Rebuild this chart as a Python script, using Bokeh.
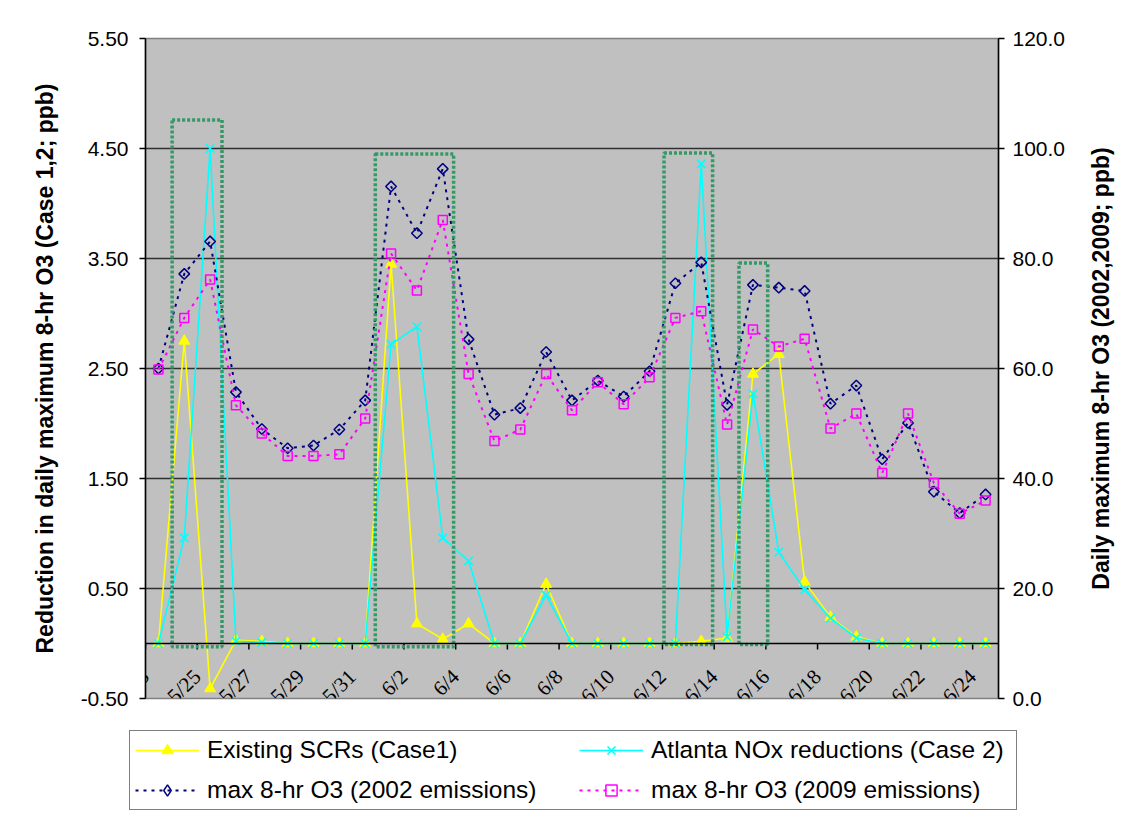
import math
from bokeh.plotting import figure
from bokeh.layouts import column, row
from bokeh.models import (Range1d, LinearAxis, FixedTicker, NumeralTickFormatter,
                          ColumnDataSource, LabelSet, Legend, LegendItem, Span)
from bokeh.core.properties import value
from bokeh.embed import file_html
from bokeh.resources import INLINE

# ---------------- data ----------------
dates = ["5/23", "5/24", "5/25", "5/26", "5/27", "5/28", "5/29", "5/30", "5/31",
         "6/1", "6/2", "6/3", "6/4", "6/5", "6/6", "6/7", "6/8", "6/9", "6/10",
         "6/11", "6/12", "6/13", "6/14", "6/15", "6/16", "6/17", "6/18", "6/19",
         "6/20", "6/21", "6/22", "6/23", "6/24"]

# Reduction in daily max 8-hr O3 (left axis, ppb)
case1_scr = [0.00, 2.75, -0.41, 0.03, 0.02, 0.00, 0.00, 0.00, 0.00,
             3.45, 0.18, 0.04, 0.18, 0.00, 0.00, 0.54, 0.00, 0.00, 0.00,
             0.00, 0.00, 0.02, 0.05, 2.45, 2.63, 0.56, 0.24, 0.06,
             0.00, 0.00, 0.00, 0.00, 0.00]
case2_atl = [0.00, 0.96, 4.50, 0.02, 0.01, 0.00, 0.00, 0.00, 0.00,
             2.72, 2.88, 0.96, 0.75, 0.00, 0.00, 0.44, 0.00, 0.00, 0.00,
             0.00, 0.00, 4.36, 0.06, 2.27, 0.83, 0.49, 0.23, 0.05,
             0.00, 0.00, 0.00, 0.00, 0.00]

# Daily max 8-hr O3 (right axis, ppb)
o3_2002 = [60.0, 77.2, 83.1, 55.7, 49.0, 45.5, 46.0, 48.9, 54.2,
           93.1, 84.6, 96.3, 65.3, 51.6, 52.8, 63.0, 54.2, 57.8, 54.9,
           59.5, 75.5, 79.3, 53.4, 75.2, 74.7, 74.1, 53.6, 56.9,
           43.5, 50.1, 37.6, 33.7, 37.1]
o3_2009 = [59.8, 69.2, 76.2, 53.3, 48.2, 44.1, 44.1, 44.4, 50.9,
           80.9, 74.2, 87.0, 59.0, 46.8, 48.9, 59.0, 52.4, 57.5, 53.5,
           58.4, 69.2, 70.4, 49.8, 67.1, 64.0, 65.4, 49.1, 51.8,
           41.0, 51.8, 39.2, 33.6, 36.0]

left_ticks = [-0.5, 0.5, 1.5, 2.5, 3.5, 4.5, 5.5]
right_ticks = [0, 20, 40, 60, 80, 100, 120]

left_title = "Reduction in daily maximum 8-hr O3 (Case 1,2; ppb)"
right_title = "Daily maximum 8-hr O3 (2002,2009; ppb)"
series_names = ["Existing SCRs (Case1)", "Atlanta NOx reductions (Case 2)",
                "max 8-hr O3 (2002 emissions)", "max 8-hr O3 (2009 emissions)"]

# highlighted episodes (dotted green boxes), category units / left-axis units
box_left = [1.03, 8.89, 20.06, 22.96]
box_right = [2.96, 11.92, 21.94, 24.07]
box_bottom = [-0.03, -0.03, -0.01, -0.01]
box_top = [4.76, 4.45, 4.46, 3.46]

# ---------------- styles ----------------
n = len(dates)
xs = [i + 0.5 for i in range(n)]
FONT = "Liberation Sans"
YEL, CYA, NAV, MAG, GRN = "#FFFF00", "#00FFFF", "#000080", "#FF00FF", "#339966"

src = ColumnDataSource(dict(x=xs, case1=case1_scr, case2=case2_atl,
                            o2002=o3_2002, o2009=o3_2009))

def add_series(fig, rng_right, for_legend=False):
    r = []
    r.append(fig.line("x", "case1", source=src, line_color=YEL, line_width=1.6))
    r.append(fig.scatter("x", "case1", source=src, marker="triangle", size=11,
                         fill_color=YEL, line_color=YEL))
    r.append(fig.line("x", "case2", source=src, line_color=CYA, line_width=1.6))
    r.append(fig.scatter("x", "case2", source=src, marker="x", size=12,
                         line_color=CYA, line_width=1.6))
    r.append(fig.line("x", "o2002", source=src, y_range_name=rng_right, line_color=NAV,
                      line_width=2, line_dash="3 5"))
    if for_legend:
        r.append(fig.scatter("x", "o2002", source=src, y_range_name=rng_right,
                             marker="diamond", size=12, fill_color=None, line_color=NAV,
                             line_width=1.5))
    else:
        r.append(fig.scatter("x", "o2002", source=src, y_range_name=rng_right,
                             marker="square", angle=math.pi / 4, size=7.5, fill_color=None,
                             line_color=NAV, line_width=1.5))
    r.append(fig.line("x", "o2009", source=src, y_range_name=rng_right, line_color=MAG,
                      line_width=2, line_dash="3 5"))
    r.append(fig.scatter("x", "o2009", source=src, y_range_name=rng_right, marker="square",
                         size=9, fill_color=None, line_color=MAG, line_width=1.5))
    return r

# ---------------- main chart ----------------
p = figure(width=1080, height=728, x_range=Range1d(0, n), y_range=Range1d(-0.5, 5.5),
           x_axis_location=None, y_axis_location=None,
           toolbar_location=None, output_backend="svg",
           min_border_left=145, min_border_right=82, min_border_top=38, min_border_bottom=30,
           background_fill_color="#C0C0C0", border_fill_color="white",
           outline_line_color="#808080", outline_line_width=1.5)
p.extra_y_ranges = {"right": Range1d(0, 120)}

p.xgrid.visible = False
p.ygrid.ticker = FixedTicker(ticks=left_ticks[1:-1])
p.ygrid.grid_line_color = "#303030"
p.ygrid.grid_line_width = 1.5

def style_axis(ax):
    ax.major_tick_in = 0
    ax.major_tick_out = 6
    ax.minor_tick_in = 0
    ax.minor_tick_out = 0
    ax.axis_line_color = "black"
    ax.axis_line_width = 1.5
    ax.major_tick_line_color = "black"
    ax.major_tick_line_width = 1.5
    ax.major_label_text_font = FONT
    ax.major_label_text_font_size = "21px"
    ax.major_label_text_color = "black"
    ax.axis_label_text_font = FONT
    ax.axis_label_text_font_size = "23px"
    ax.axis_label_text_font_style = "bold"
    ax.axis_label_text_color = "black"

yl = LinearAxis(ticker=FixedTicker(ticks=left_ticks),
                formatter=NumeralTickFormatter(format="0.00"), axis_label=left_title)
style_axis(yl)
yl.major_label_standoff = 11
yl.axis_label_standoff = 20
p.add_layout(yl, "left")

yr = LinearAxis(y_range_name="right", ticker=FixedTicker(ticks=right_ticks),
                formatter=NumeralTickFormatter(format="0.0"))
style_axis(yr)
yr.major_label_standoff = 8
p.add_layout(yr, "right")

# category axis crossing at zero, with tick marks every second day
p.add_layout(Span(location=0, dimension="width", line_color="black", line_width=1.5))
tick_x = list(range(0, n, 2))
p.segment(x0=tick_x, y0=[0] * len(tick_x), x1=tick_x, y1=[-6 / 110] * len(tick_x),
          line_color="black", line_width=1.5)

main_r = add_series(p, "right")

p.quad(left=box_left, right=box_right, bottom=box_bottom, top=box_top,
       fill_color=None, line_color=GRN, line_width=3.5, line_dash="3 2")

# rotated category labels
label_idx = list(range(0, n, 2))
lab_src = ColumnDataSource(dict(x=[xs[i] for i in label_idx],
                                y=[p.y_range.start + 0.23] * len(label_idx),
                                text=[dates[i] for i in label_idx]))
p.add_layout(LabelSet(x="x", y="y", text="text", source=lab_src, angle=math.pi / 4,
                      text_align="right", text_baseline="middle", x_offset=-13,
                      text_font=FONT, text_font_size="21px", text_color="black"))

# ---------------- right-hand axis title strip ----------------
pt = figure(width=42, height=728, x_range=Range1d(0, 1), y_range=Range1d(0, 1),
            x_axis_location=None, y_axis_location=None, toolbar_location=None,
            output_backend="svg", min_border=0, outline_line_color=None,
            background_fill_color="white", border_fill_color="white")
pt.xgrid.visible = False
pt.ygrid.visible = False
pt.text(x=[0.48], y=[0.5], text=[right_title], angle=math.pi / 2,
        text_align="center", text_baseline="middle", text_font=value(FONT),
        text_font_size="23px", text_font_style="bold", text_color="black")

# ---------------- legend strip ----------------
pl = figure(width=1122, height=82, x_range=Range1d(0, n), y_range=Range1d(1000, 1001),
            x_axis_location=None, y_axis_location=None, toolbar_location=None,
            output_backend="svg", min_border=0, outline_line_color=None,
            background_fill_color="white", border_fill_color="white")
pl.extra_y_ranges = {"right": Range1d(1000, 1001)}
pl.xgrid.visible = False
pl.ygrid.visible = False
leg_r = add_series(pl, "right", for_legend=True)

legend = Legend(items=[LegendItem(label=series_names[k], renderers=[leg_r[2 * k], leg_r[2 * k + 1]])
                       for k in range(4)],
                location=(129, 0), orientation="horizontal", ncols=2,
                border_line_color="black", border_line_width=1,
                background_fill_color="white", background_fill_alpha=1.0,
                label_text_font=FONT, label_text_font_size="24.5px", label_text_color="black",
                glyph_width=64, glyph_height=28, label_height=28, label_width=360,
                label_standoff=8, spacing=12, padding=5, margin=0)
pl.add_layout(legend)

layout = column(row(p, pt), pl)
open("out.html", "w").write(file_html(layout, INLINE))
